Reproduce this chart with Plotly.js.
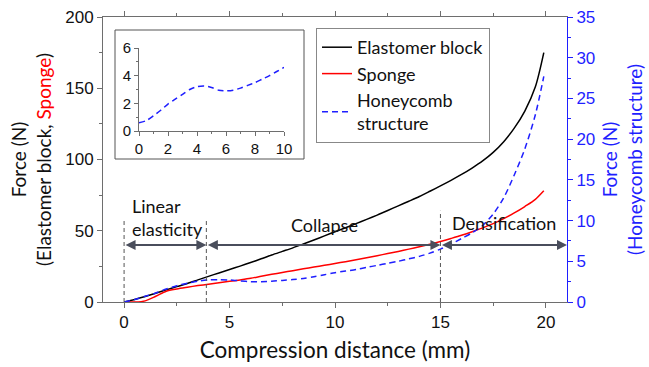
<!DOCTYPE html>
<html>
<head>
<meta charset="utf-8">
<script src="https://cdn.plot.ly/plotly-3.0.1.min.js"></script>
<style>html,body{margin:0;padding:0;background:#fff;}#chart{width:649px;height:367px;}</style>
</head>
<body>
<div id="chart"></div>
<script>
// Compression distance (mm)
const distance = [0,0.5,1,1.5,2,2.5,3,3.5,4,4.5,5,5.5,6,6.5,7,7.5,8,8.5,9,9.5,10,10.5,11,11.5,12,12.5,13,13.5,14,14.5,15,15.5,16,16.5,17,17.5,18,18.5,19,19.5,19.9];
// Force (N), left axis
const elastomerBlock = [0,1.8,3.8,6.2,8.5,10.8,13,15.5,18,20.4,22.8,25.2,27.7,30.3,33,35.5,38,40.7,43.5,46.4,49.3,52.1,55,58,61,64.2,67.5,70.7,74,77.7,81.5,85.4,89.5,94,99,105,112.5,122,134,151,175];
const sponge = [0,0,0.8,4,7.6,9.2,10.4,11.5,12.5,13.5,14.5,15.5,16.6,18,19.4,20.7,22,23.3,24.5,25.8,27,28.3,29.7,31.1,32.5,34,35.5,37.1,38.8,40.6,42.5,44.6,46.8,49.3,52,55,58.5,62.5,67,72,78];
// Force (N), right axis
const honeycomb = [0,0.3,0.7,1.1,1.6,2.0,2.3,2.55,2.7,2.75,2.7,2.6,2.5,2.5,2.55,2.65,2.75,2.9,3.1,3.35,3.6,3.8,4.0,4.25,4.5,4.75,5.0,5.3,5.6,6.0,6.5,7.1,7.8,8.5,9.4,10.8,12.8,15.6,18.8,23,27.7];
// Inset (0-10 mm, honeycomb)
const insetDistance = [0,0.5,1,1.5,2,2.5,3,3.5,4,4.5,5,5.5,6,6.5,7,7.5,8,8.5,9,9.5,10];
const insetHoneycomb = [0.6,0.75,1.1,1.5,1.95,2.3,2.65,3.0,3.2,3.25,3.15,2.95,2.9,2.95,3.1,3.3,3.5,3.75,4.0,4.3,4.6];
// Deformation regimes
const phaseBounds = [0, 3.9, 15, 21];
const phaseLabels = ["Linear<br>elasticity", "Collapse", "Densification"];
const phaseLabelX = [0.3, 9.5, 18];
const phaseLabelY = [59, 54, 55.5];
const arrowLevel = 40;
const guideTops = [57, 57, 64];

const calib = "Lato, 'Open Sans', sans-serif";
const arial = "'Liberation Sans', Arial, sans-serif";
const axisGray = "#6e6e6e";
const blue = "#1f1fff";

const traces = [
  {x: distance, y: elastomerBlock, name: "Elastomer block", type: "scatter", mode: "lines",
   line: {color: "#000", width: 1.5, shape: "spline", smoothing: 0.8}, xaxis: "x", yaxis: "y"},
  {x: distance, y: sponge, name: "Sponge", type: "scatter", mode: "lines",
   line: {color: "#ff0000", width: 1.5, shape: "spline", smoothing: 0.8}, xaxis: "x", yaxis: "y"},
  {x: distance, y: honeycomb, name: "Honeycomb<br>structure", type: "scatter", mode: "lines",
   line: {color: blue, width: 1.5, dash: "6px,4px", shape: "spline", smoothing: 0.8}, xaxis: "x", yaxis: "y2"},
  {x: insetDistance, y: insetHoneycomb, name: "inset", showlegend: false, type: "scatter", mode: "lines",
   line: {color: blue, width: 1.5, dash: "6px,4px", shape: "spline", smoothing: 0.8}, xaxis: "x2", yaxis: "y3"}
];

const shapes = [];
const annotations = [];
for (let i = 0; i < 3; i++) {
  shapes.push({type: "line", xref: "x", yref: "y", x0: phaseBounds[i], x1: phaseBounds[i], y0: 0, y1: guideTops[i],
    line: {color: "#555", width: 1, dash: "4px,3px"}});
  annotations.push({x: phaseBounds[i+1], y: arrowLevel, ax: phaseBounds[i], ay: arrowLevel,
    xref: "x", yref: "y", axref: "x", ayref: "y", text: "", showarrow: true,
    arrowhead: 2, startarrowhead: 2, arrowside: "end+start", arrowsize: 1, startarrowsize: 1, arrowwidth: 2,
    arrowcolor: "#4a4e5c", standoff: 0, startstandoff: 0});
  annotations.push({x: phaseLabelX[i], y: phaseLabelY[i], xref: "x", yref: "y", text: phaseLabels[i],
    showarrow: false, xanchor: i === 0 ? "left" : "center", align: "left",
    font: {family: calib, size: 18, color: "#111"}});
}
// inset frame
shapes.push({type: "rect", xref: "paper", yref: "paper", x0: (115-103)/464, x1: (304-103)/464,
  y0: (302-159)/285, y1: (302-30)/285, line: {color: "#555", width: 1}, fillcolor: "rgba(0,0,0,0)", layer: "below"});

const layout = {
  width: 649, height: 367,
  margin: {l: 103, r: 82, t: 17, b: 65},
  paper_bgcolor: "#fff", plot_bgcolor: "#fff",
  showlegend: true,
  legend: {x: (316-103)/464, y: (302-28)/285, xanchor: "left", yanchor: "top",
    bordercolor: "#888", borderwidth: 1, bgcolor: "#fff",
    font: {family: calib, size: 18, color: "#111"}, itemwidth: 30, tracegroupgap: 0},
  xaxis: {range: [-1, 21], domain: [0, 1], showgrid: false, zeroline: false,
    showline: true, linecolor: axisGray, linewidth: 1, mirror: "ticks",
    ticks: "outside", ticklen: 5, tickcolor: axisGray, tickvals: [0,5,10,15,20],
    minor: {tickvals: [2.5,7.5,12.5,17.5], ticks: "outside", ticklen: 3, tickcolor: axisGray},
    tickfont: {family: arial, size: 17, color: "#111"},
    title: {text: "Compression distance (mm)", font: {family: calib, size: 22.5, color: "#111"}, standoff: 10}},
  yaxis: {range: [0, 200], domain: [0, 1], showgrid: false, zeroline: false,
    showline: true, linecolor: axisGray, linewidth: 1, mirror: false,
    ticks: "outside", ticklen: 5, tickcolor: axisGray, tickvals: [0,50,100,150,200],
    minor: {tickvals: [25,75,125,175], ticks: "outside", ticklen: 3, tickcolor: axisGray},
    tickfont: {family: arial, size: 17, color: "#111"},
    title: {text: "Force (N)<br>(Elastomer block, <span style='color:#ff0000'>Sponge</span>)",
      font: {family: calib, size: 19, color: "#111"}, standoff: 8}},
  yaxis2: {range: [0, 35], overlaying: "y", side: "right", showgrid: false, zeroline: false,
    showline: true, linecolor: blue, linewidth: 1,
    ticks: "outside", ticklen: 5, tickcolor: blue, tickvals: [0,5,10,15,20,25,30,35],
    minor: {tickvals: [2.5,7.5,12.5,17.5,22.5,27.5,32.5], ticks: "outside", ticklen: 3, tickcolor: blue},
    tickfont: {family: arial, size: 17, color: blue},
    title: {text: "Force (N)<br>(Honeycomb structure)", font: {family: calib, size: 19, color: blue}, standoff: 9}},
  xaxis2: {range: [0, 10], domain: [(139-103)/464, (284-103)/464], anchor: "y3",
    showgrid: false, zeroline: false, showline: true, linecolor: axisGray, linewidth: 1,
    ticks: "outside", ticklen: 4, tickcolor: axisGray, tickvals: [0,2,4,6,8,10],
    minor: {tickvals: [1,3,5,7,9], ticks: "outside", ticklen: 2, tickcolor: axisGray},
    tickfont: {family: arial, size: 15, color: "#111"}},
  yaxis3: {range: [0, 6], domain: [(302-131)/285, (302-48)/285], anchor: "x2",
    showgrid: false, zeroline: false, showline: true, linecolor: axisGray, linewidth: 1,
    ticks: "outside", ticklen: 4, tickcolor: axisGray, tickvals: [0,2,4,6],
    minor: {tickvals: [1,3,5], ticks: "outside", ticklen: 2, tickcolor: axisGray},
    tickfont: {family: arial, size: 15, color: "#111"}},
  shapes: shapes,
  annotations: annotations
};

Plotly.newPlot("chart", traces, layout, {staticPlot: true, displayModeBar: false});
</script>
</body>
</html>
